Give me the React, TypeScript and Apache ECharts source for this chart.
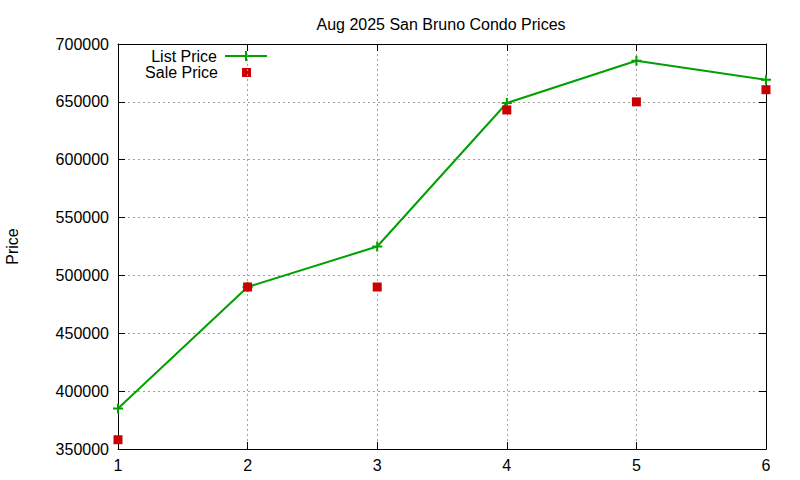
import React, { useEffect, useRef } from 'react';
import * as echarts from 'echarts';

const months = [1, 2, 3, 4, 5, 6];
const listPrice = [385000, 490000, 525000, 649000, 685500, 669000];
const salePrice = [358000, 490000, 490000, 643000, 650000, 660500];
const yTicks = { min: 350000, max: 700000, step: 50000 };

const GREEN = '#00a000';
const RED = '#cc0000';
const FONT = 'Liberation Sans, Arial, sans-serif';

const App: React.FC = () => {
  const chartRef = useRef<HTMLDivElement>(null);

  useEffect(() => {
    if (!chartRef.current) return;
    const chart = echarts.init(chartRef.current, undefined, { renderer: 'svg' });

    const gridLine = { show: true, lineStyle: { color: '#a0a0a0', type: [2, 3] as number[], width: 1 } };
    const border = { show: true, lineStyle: { color: '#000', width: 1 } };
    const tick = { show: true, inside: true, length: 7, lineStyle: { color: '#000' } };

    const option = {
      animation: false,
      textStyle: { fontFamily: FONT },
      title: {
        text: 'Aug 2025 San Bruno Condo Prices',
        left: 436,
        top: 11,
        textAlign: 'center',
        textStyle: { fontFamily: FONT, fontSize: 16, fontWeight: 'normal', color: '#000' },
      },
      grid: { left: 118, right: 34, top: 44, bottom: 31, show: false, outerBoundsMode: 'none' },
      xAxis: [
        {
          type: 'value',
          min: months[0],
          max: months[months.length - 1],
          interval: 1,
          axisLine: border,
          axisTick: tick,
          splitLine: gridLine,
          axisLabel: { fontFamily: FONT, fontSize: 16, color: '#000', margin: 8 },
        },
        {
          type: 'value',
          position: 'top',
          min: months[0],
          max: months[months.length - 1],
          interval: 1,
          axisLine: border,
          axisTick: tick,
          splitLine: { show: false },
          axisLabel: { show: false },
        },
      ],
      yAxis: [
        {
          type: 'value',
          min: yTicks.min,
          max: yTicks.max,
          interval: yTicks.step,
          name: 'Price',
          nameLocation: 'middle',
          nameGap: 98,
          nameTextStyle: { fontFamily: FONT, fontSize: 16, color: '#000' },
          axisLine: border,
          axisTick: tick,
          splitLine: gridLine,
          axisLabel: {
            fontFamily: FONT,
            fontSize: 16,
            color: '#000',
            margin: 9,
            formatter: (v: number) => String(v),
          },
        },
        {
          type: 'value',
          position: 'right',
          min: yTicks.min,
          max: yTicks.max,
          interval: yTicks.step,
          axisLine: border,
          axisTick: tick,
          splitLine: { show: false },
          axisLabel: { show: false },
        },
      ],
      graphic: [
        {
          type: 'text',
          x: 217,
          y: 56,
          style: {
            text: 'List Price',
            fontFamily: FONT,
            fontSize: 16,
            fill: '#000',
            align: 'right',
            verticalAlign: 'middle',
          },
        },
        { type: 'line', shape: { x1: 225, y1: 56, x2: 267, y2: 56 }, style: { stroke: GREEN, lineWidth: 2 } },
        { type: 'line', shape: { x1: 246, y1: 51, x2: 246, y2: 61 }, style: { stroke: GREEN, lineWidth: 2 } },
        {
          type: 'text',
          x: 218,
          y: 72,
          style: {
            text: 'Sale Price',
            fontFamily: FONT,
            fontSize: 16,
            fill: '#000',
            align: 'right',
            verticalAlign: 'middle',
          },
        },
        { type: 'rect', shape: { x: 242, y: 68, width: 9, height: 9 }, style: { fill: RED } },
      ],
      series: [
        {
          name: 'List Price',
          type: 'line',
          data: months.map((m, i) => [m, listPrice[i]]),
          symbol: 'path://M0,5L10,5M5,0L5,10',
          symbolSize: 10,
          itemStyle: { color: GREEN, borderColor: GREEN, borderWidth: 2 },
          lineStyle: { color: GREEN, width: 2 },
          clip: false,
          z: 3,
        },
        {
          name: 'Sale Price',
          type: 'scatter',
          data: months.map((m, i) => [m, salePrice[i]]),
          symbol: 'rect',
          symbolSize: 9,
          itemStyle: { color: RED, opacity: 1 },
          clip: false,
          z: 4,
        },
      ],
    };

    chart.setOption(option);
    return () => {
      chart.dispose();
    };
  }, []);

  return (
    <div
      ref={chartRef}
      style={{ position: 'absolute', left: 0, top: 0, width: 800, height: 480, background: '#fff' }}
    />
  );
};

export default App;
